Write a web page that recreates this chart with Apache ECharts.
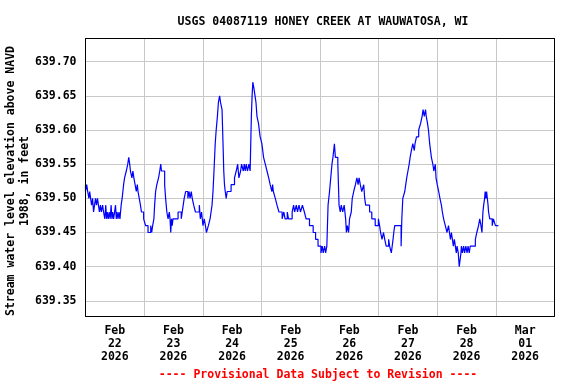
<!DOCTYPE html>
<html><head><meta charset="utf-8">
<script src="https://cdn.jsdelivr.net/npm/echarts@6/dist/echarts.min.js"></script>
<style>html,body{margin:0;padding:0;background:#fff}#c{width:576px;height:384px}</style>
</head><body><div id="c"></div>
<script>
const titleText = 'USGS 04087119 HONEY CREEK AT WAUWATOSA, WI';
const yTitle = 'Stream water level elevation above NAVD\n1988, in feet';
const footer = '---- Provisional Data Subject to Revision ----';
const dayLabels = ['Feb\n22\n2026','Feb\n23\n2026','Feb\n24\n2026','Feb\n25\n2026','Feb\n26\n2026','Feb\n27\n2026','Feb\n28\n2026','Mar\n01\n2026'];
// hours since 2026-02-22 00:00
const hours = [0.0,0.5,0.9,1.4,1.7,2.1,2.5,2.9,3.3,3.7,4.1,4.5,4.9,5.3,5.7,6.1,6.5,7.0,7.4,7.9,8.3,8.6,8.9,9.3,9.7,10.1,10.5,10.8,11.1,11.5,11.9,12.3,12.6,12.9,13.3,13.7,14.1,14.6,15.0,15.3,15.6,16.0,16.7,17.3,17.7,18.1,18.4,19.0,19.4,19.8,20.3,20.8,21.2,21.5,22.0,22.5,22.9,23.8,24.6,25.6,26.7,27.1,27.5,28.0,28.3,28.7,29.2,29.9,30.4,30.8,31.1,32.4,32.8,33.3,33.8,34.3,34.6,34.9,35.2,35.5,35.8,37.9,39.2,39.6,40.0,40.4,41.0,41.9,42.4,42.8,43.3,43.7,44.3,45.0,46.6,47.0,47.5,48.1,48.6,49.1,49.5,50.3,51.0,51.4,51.8,52.2,52.6,53.1,53.5,54.0,54.4,54.9,55.3,55.9,56.3,56.6,56.9,57.2,57.6,58.0,59.6,61.0,61.7,62.3,62.8,63.5,63.9,64.6,65.0,65.4,65.8,66.3,66.9,67.4,67.9,68.2,68.5,69.0,69.4,69.8,70.2,70.8,71.5,72.2,72.9,73.6,74.3,75.0,75.6,76.3,76.6,76.9,77.7,78.4,79.2,80.5,81.2,81.7,82.6,83.1,84.6,85.2,85.6,86.3,86.8,87.4,88.0,88.8,89.6,90.3,91.7,93.2,94.2,95.2,96.4,96.9,97.3,97.9,98.3,98.8,99.3,99.9,100.4,100.9,101.3,101.9,102.3,103.3,103.8,104.3,104.7,105.3,105.9,106.5,106.8,107.2,107.7,108.1,108.8,109.2,109.8,110.5,111.1,111.6,112.0,112.5,113.1,113.9,114.3,114.7,116.3,117.2,118.6,119.9,120.4,120.8,121.4,122.0,122.5,123.1,124.1,124.5,125.2,125.9,126.2,126.6,129.2,129.5,129.9,130.7,131.1,131.5,132.0,132.5,132.9,133.4,134.0,134.6,134.9,135.5,136.4,137.2,137.8,138.2,138.7,139.2,139.5,140.0,140.4,140.9,141.6,142.2,142.6,143.2,143.5,144.0,144.6,145.1,145.7,146.1,146.6,147.3,148.0,148.6,149.0,149.4,149.8,150.2,150.6,151.0,151.4,151.8,152.1,152.6,153.0,153.7,153.9,154.3,154.8,155.2,155.7,156.2,156.6,157.1,157.5,159.6,160.2,160.9,161.4,161.9,162.3,162.7,163.0,163.4,163.6,163.9,164.2,164.5,164.8,165.0,165.5,166.5,167.0,167.8,168.2,169.0];
const levels = [639.52,639.51,639.52,639.51,639.50,639.51,639.50,639.49,639.50,639.48,639.49,639.50,639.49,639.50,639.49,639.48,639.49,639.48,639.49,639.48,639.47,639.49,639.47,639.48,639.47,639.48,639.47,639.49,639.47,639.48,639.47,639.48,639.49,639.47,639.48,639.47,639.48,639.47,639.49,639.50,639.51,639.52,639.53,639.54,639.55,639.56,639.55,639.54,639.53,639.54,639.53,639.52,639.51,639.52,639.51,639.50,639.49,639.48,639.47,639.46,639.45,639.46,639.45,639.46,639.47,639.49,639.51,639.52,639.53,639.54,639.55,639.54,639.52,639.50,639.48,639.47,639.48,639.47,639.45,639.47,639.46,639.47,639.48,639.47,639.48,639.49,639.50,639.51,639.50,639.51,639.50,639.51,639.50,639.49,639.48,639.49,639.47,639.48,639.46,639.47,639.46,639.45,639.46,639.47,639.48,639.49,639.51,639.54,639.58,639.60,639.62,639.64,639.65,639.64,639.63,639.58,639.54,639.52,639.51,639.50,639.51,639.52,639.53,639.54,639.55,639.53,639.54,639.55,639.54,639.55,639.54,639.55,639.54,639.55,639.54,639.62,639.65,639.67,639.66,639.65,639.64,639.62,639.61,639.59,639.58,639.56,639.55,639.54,639.53,639.52,639.51,639.52,639.51,639.50,639.49,639.48,639.47,639.48,639.47,639.48,639.47,639.48,639.49,639.48,639.49,639.48,639.49,639.48,639.49,639.48,639.47,639.46,639.45,639.44,639.43,639.42,639.43,639.42,639.43,639.42,639.43,639.49,639.51,639.53,639.55,639.56,639.58,639.56,639.55,639.49,639.48,639.49,639.48,639.49,639.47,639.45,639.46,639.45,639.47,639.48,639.50,639.51,639.52,639.53,639.52,639.53,639.52,639.51,639.52,639.50,639.49,639.48,639.47,639.46,639.47,639.46,639.45,639.44,639.45,639.44,639.43,639.44,639.43,639.42,639.44,639.45,639.46,639.43,639.47,639.50,639.51,639.52,639.53,639.54,639.55,639.56,639.57,639.58,639.57,639.58,639.59,639.60,639.61,639.62,639.63,639.62,639.63,639.62,639.61,639.60,639.58,639.56,639.55,639.54,639.55,639.53,639.52,639.51,639.50,639.49,639.48,639.47,639.46,639.45,639.46,639.45,639.44,639.45,639.44,639.43,639.44,639.43,639.42,639.43,639.42,639.40,639.42,639.43,639.42,639.43,639.42,639.43,639.42,639.43,639.42,639.43,639.44,639.45,639.46,639.47,639.46,639.45,639.48,639.49,639.50,639.51,639.50,639.51,639.50,639.49,639.48,639.47,639.46,639.47,639.46,639.46];

const font = 'DejaVu Sans Mono';
const chart = echarts.init(document.getElementById('c'), null, {renderer: 'canvas'});
chart.setOption({
  animation: false,
  backgroundColor: '#fff',
  title: {text: titleText, left: 318, top: 11, textAlign: 'center',
    textStyle: {fontFamily: font, fontWeight: 'bold', fontSize: 11.5, color: '#000'}},
  grid: {left: 85.5, right: 21.5, top: 38.5, bottom: 67.5, show: true, borderColor: '#000', borderWidth: 1, backgroundColor: 'transparent', z: 5},
  xAxis: [
    {type: 'category', data: dayLabels, boundaryGap: true, position: 'bottom',
     axisLine: {show: false}, axisTick: {show: false},
     splitLine: {show: true, interval: 0, lineStyle: {color: '#c8c8c8', width: 1}},
     axisLabel: {interval: 0, margin: 8, lineHeight: 13, fontFamily: font, fontWeight: 'bold', fontSize: 11.5, color: '#000'}},
    {type: 'value', min: 0, max: 192, show: false}
  ],
  yAxis: {type: 'value', min: 639.327, max: 639.734, splitNumber: 8,
    axisLine: {show: false}, axisTick: {show: false},
    splitLine: {lineStyle: {color: '#c8c8c8', width: 1}},
    axisLabel: {showMinLabel: false, showMaxLabel: false, margin: 9, fontFamily: font, fontWeight: 'bold', fontSize: 11.5, color: '#000',
      formatter: v => v.toFixed(2)}},
  graphic: [
    {type: 'text', x: 18.5, y: 181, rotation: Math.PI / 2,
     style: {text: yTitle, fontFamily: font, fontWeight: 'bold', fontSize: 11.5, lineHeight: 14, fill: '#000', align: 'center', verticalAlign: 'middle'}},
    {type: 'text', x: 318, y: 375,
     style: {text: footer, fontFamily: font, fontWeight: 'bold', fontSize: 11.5, fill: '#ff0000', align: 'center', verticalAlign: 'middle'}},
    {type: 'rect', z: 100, shape: {x: 85.5, y: 38.5, width: 469, height: 278},
     style: {fill: null, stroke: '#000', lineWidth: 1}}
  ],
  series: [{type: 'line', xAxisIndex: 1, step: 'start', showSymbol: false, symbol: 'none',
    lineStyle: {color: '#0000ff', width: 1.2}, data: hours.map((h, i) => [h, levels[i]])}]
});
</script></body></html>
